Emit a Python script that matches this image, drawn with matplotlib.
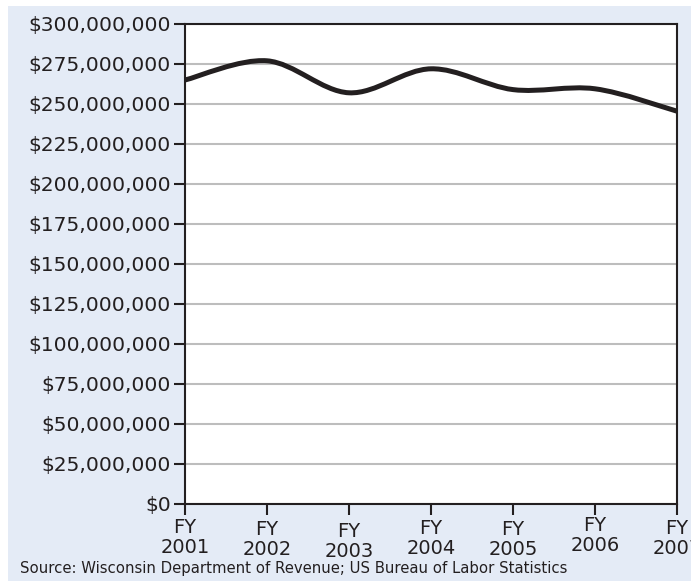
import numpy as np
import matplotlib.pyplot as plt
import matplotlib.transforms as mtransforms
from matplotlib.path import Path
from matplotlib.patches import PathPatch, Rectangle
from matplotlib.ticker import FuncFormatter

years = ["2001", "2002", "2003", "2004", "2005", "2006", "2007"]
revenue = [265e6, 277e6, 257e6, 272e6, 259e6, 259.5e6, 245.5e6]
yticks = np.arange(0, 300e6 + 1, 25e6)
# small vertical shifts of the x labels seen in the original (pixels)
label_shift = [0, 2, 4, 1, 2, -2, 1]

plt.rcParams['font.family'] = ['DejaVu Sans']

fig = plt.figure(figsize=(6.91, 5.81), dpi=100, facecolor='white')
fig.patches.append(Rectangle((8 / 691, 0), 1, 1 - 6 / 581, transform=fig.transFigure,
                             facecolor='#e4ebf6', edgecolor='none', zorder=-1))
ax = fig.add_axes([185 / 691, 1 - 504 / 581, (677 - 185) / 691, 480 / 581])
ax.set_facecolor('white')

# smoothed line drawn as bezier segments through the points (Excel style)
x = np.arange(len(years))
y = np.array(revenue)
verts = [(x[0], y[0])]
codes = [Path.MOVETO]
for i in range(len(x) - 1):
    p0 = (x[max(i - 1, 0)], y[max(i - 1, 0)])
    p1 = (x[i], y[i])
    p2 = (x[i + 1], y[i + 1])
    p3 = (x[min(i + 2, len(x) - 1)], y[min(i + 2, len(x) - 1)])
    c1 = (p1[0] + (p2[0] - p0[0]) / 6, p1[1] + (p2[1] - p0[1]) / 6)
    c2 = (p2[0] - (p3[0] - p1[0]) / 6, p2[1] - (p3[1] - p1[1]) / 6)
    verts += [c1, c2, p2]
    codes += [Path.CURVE4] * 3
ax.add_patch(PathPatch(Path(verts, codes), facecolor='none', edgecolor='#231f20',
                       lw=3.6, capstyle='butt', zorder=3))

ax.set_xlim(0, len(years) - 1)
ax.set_ylim(0, 300e6)
ax.set_yticks(yticks)
ax.yaxis.set_major_formatter(FuncFormatter(lambda v, p: '${:,.0f}'.format(v)))
ax.set_xticks(x)
ax.set_xticklabels(['FY\n' + yr for yr in years], linespacing=1.1)
ax.grid(axis='y', color='#bdbdbd', lw=1.5)
ax.set_axisbelow(True)
for s in ax.spines.values():
    s.set_color('#231f20')
    s.set_linewidth(1.5)
ax.tick_params(axis='both', direction='out', length=8, width=1.5, color='#231f20',
               labelsize=14.6, labelcolor='#231f20')
ax.tick_params(axis='y', pad=2)
ax.tick_params(axis='x', pad=2, labelsize=14)

for lab, dy in zip(ax.get_xticklabels(), label_shift):
    lab.set_transform(lab.get_transform() +
                      mtransforms.ScaledTranslation(0, -dy / 100, fig.dpi_scale_trans))

fig.text(20 / 691, 1 - 568 / 581, 'Source: Wisconsin Department of Revenue; US Bureau of Labor Statistics',
         fontsize=10.7, color='#231f20', va='center', ha='left')

fig.savefig('out.png', dpi=100, facecolor=fig.get_facecolor())
